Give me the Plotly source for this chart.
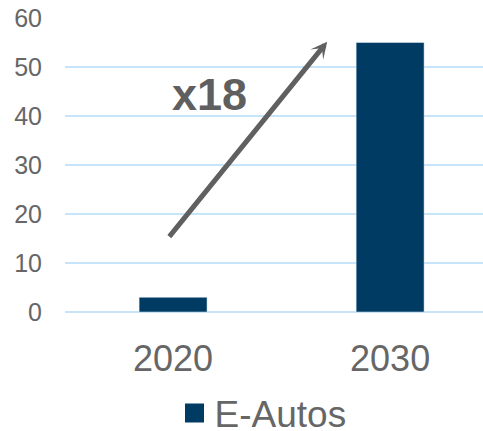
import plotly.graph_objects as go

categories = ["2020", "2030"]
values = [3, 55]
series_name = "E-Autos"
y_ticks = [0, 10, 20, 30, 40, 50, 60]
multiplier_label = "x18"

bar_color = "#003b63"
grid_color = "#c6e4fa"
text_color = "#666666"
font_family = "Liberation Sans, Arial, sans-serif"

fig = go.Figure()
fig.add_trace(go.Bar(
    x=categories, y=values, name=series_name, width=0.313,
    marker=dict(color=bar_color), showlegend=False,
))
# legend entry (larger square symbol than the bar legend icon)
fig.add_trace(go.Scatter(
    x=[categories[0]], y=[None], mode="markers", name=series_name,
    marker=dict(symbol="square", size=16, color=bar_color,
                line=dict(color=bar_color, width=3)),
    hoverinfo="skip",
))

fig.add_annotation(
    x=0.71, y=55.15, ax=-0.023, ay=15.07,
    xref="x", yref="y", axref="x", ayref="y",
    text="", showarrow=True, arrowhead=3, arrowsize=0.55,
    arrowwidth=5, arrowcolor="#606060", standoff=0,
)
fig.add_annotation(
    x=0.17, y=44.3, xref="x", yref="y", text="<b>" + multiplier_label + "</b>",
    showarrow=False, font=dict(size=45, color="#5f5f5f", family=font_family),
)

fig.update_layout(
    width=483, height=431,
    margin=dict(l=65, r=0, t=18, b=119, autoexpand=False),
    plot_bgcolor="white", paper_bgcolor="white",
    font=dict(family=font_family, color=text_color),
    showlegend=True,
    legend=dict(orientation="h", x=0.262, xanchor="left", y=-0.345, yanchor="middle",
                font=dict(size=37, color=text_color, family=font_family),
                itemsizing="trace", bgcolor="rgba(0,0,0,0)", borderwidth=0),
    xaxis=dict(type="category", range=[-0.498, 1.428], showgrid=False, automargin=False,
               showline=False, tickfont=dict(size=36, color=text_color),
               ticklabelstandoff=22),
    yaxis=dict(range=[0, 60], tickvals=y_ticks, showgrid=True, gridcolor=grid_color,
               automargin=False,
               gridwidth=1.5, zeroline=True, zerolinecolor=grid_color, zerolinewidth=1.5,
               tickfont=dict(size=25, color=text_color), ticklabelstandoff=22),
)

fig.write_html("out.html")
